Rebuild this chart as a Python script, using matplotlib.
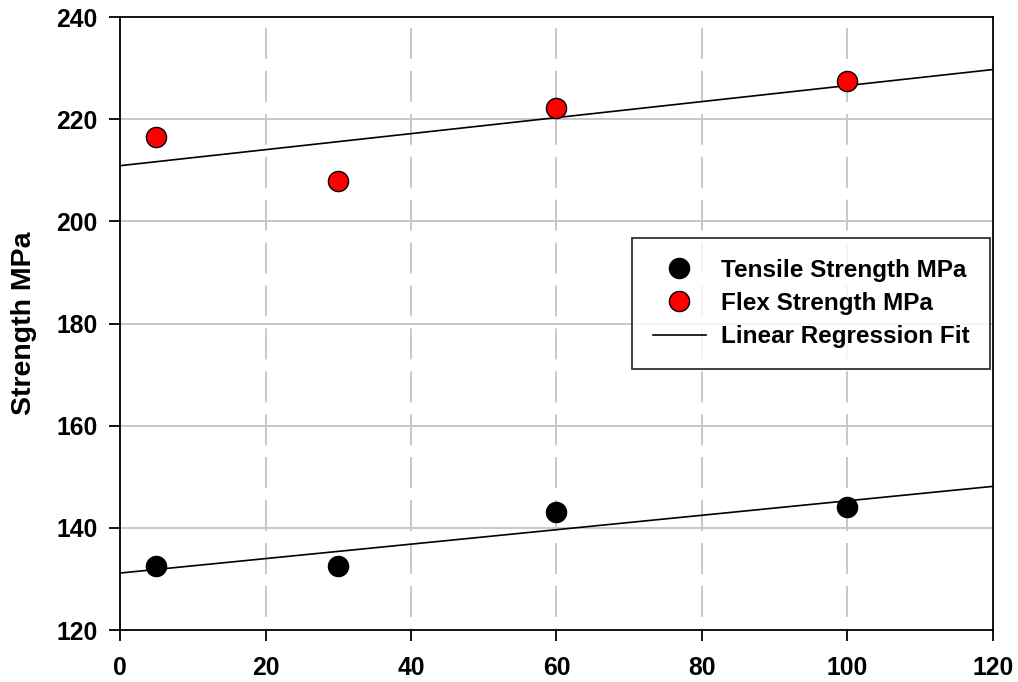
import numpy as np
import matplotlib.pyplot as plt

plt.rcParams['font.family'] = ['Liberation Sans', 'DejaVu Sans']
plt.rcParams['font.weight'] = 'bold'
plt.rcParams['lines.scale_dashes'] = False

x_vals = [5, 30, 60, 100]
tensile = [132.5, 132.5, 143.2, 144.0]
flex = [216.5, 208.0, 222.2, 227.5]
x_ticks = [0, 20, 40, 60, 80, 100, 120]
y_ticks = [120, 140, 160, 180, 200, 220, 240]


fig = plt.figure(figsize=(10.18, 6.82), dpi=100)
ax = fig.add_axes([0.1179, 0.0762, 0.9754 - 0.1179, 0.975 - 0.0762])

# grid: dashed verticals (drawn top -> bottom), solid horizontals
for xv in x_ticks[1:-1]:
    ax.plot([xv, xv], [y_ticks[-1], y_ticks[0]], color='#c8c8c8', lw=1.4,
            linestyle=(23, (22.3, 8.6)), zorder=0)
for yv in y_ticks[1:-1]:
    ax.axhline(yv, color='#c8c8c8', lw=1.4, zorder=0)

# linear fits
xx = np.array([0, 120])
for ys in (tensile, flex):
    k, b = np.polyfit(x_vals, ys, 1)
    ax.plot(xx, k * xx + b, color='black', lw=1.2, zorder=2)

ax.plot(x_vals, tensile, 'o', ms=14.5, mfc='black', mec='black', mew=1.0,
        zorder=3, label='Tensile Strength MPa')
ax.plot(x_vals, flex, 'o', ms=14.5, mfc='red', mec='black', mew=1.0,
        zorder=3, label='Flex Strength MPa')
ax.plot([], [], color='black', lw=1.2, label='Linear Regression Fit')

ax.set_xlim(0, 120)
ax.set_ylim(120, 240)
ax.set_xticks(x_ticks)
ax.set_yticks(y_ticks)
ax.tick_params(direction='out', length=8, width=1.3, labelsize=17.8)
ax.tick_params(axis='y', pad=8)
ax.tick_params(axis='x', pad=11)
for sp in ax.spines.values():
    sp.set_linewidth(1.3)

ax.set_ylabel('Strength MPa', fontsize=20.5, fontweight='bold', labelpad=14)

leg = ax.legend(loc='upper left', bbox_to_anchor=(0.5865, 0.6395), fontsize=17.5,
                frameon=True, fancybox=False, edgecolor='black',
                handlelength=2.2, borderpad=0.85, labelspacing=0.42,
                handletextpad=0.6, borderaxespad=0)
leg.get_frame().set_linewidth(1.3)

fig.savefig('out.png', dpi=100)
